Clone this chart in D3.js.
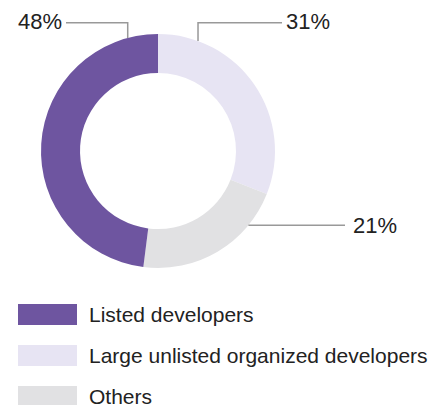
<!DOCTYPE html>
<html>
<head>
<meta charset="utf-8">
<script src="https://cdn.jsdelivr.net/npm/d3@7"></script>
<style>
  html, body { margin: 0; padding: 0; background: #fff; }
  svg { display: block; }
  text { font-family: "Liberation Sans", Arial, sans-serif; fill: #222; }
</style>
</head>
<body>
<svg id="chart" width="436" height="405"></svg>
<script>
// Market share by developer type
const categories = ["Listed developers", "Large unlisted organized developers", "Others"];
const shares = [48, 31, 21];
const colors = ["#6e55a0", "#e7e4f3", "#e1e1e3"];
// Clockwise drawing order starting at 12 o'clock
const drawOrder = [1, 2, 0];

const svg = d3.select("#chart");
const cx = 158, cy = 151, outerR = 117, innerR = 78;

const pie = d3.pie()
  .sort(null)
  .value(i => shares[i]);
const arcs = pie(drawOrder);

const arc = d3.arc().innerRadius(innerR).outerRadius(outerR);

const g = svg.append("g").attr("transform", `translate(${cx},${cy})`);
g.selectAll("path")
  .data(arcs)
  .join("path")
  .attr("d", arc)
  .attr("fill", d => colors[d.data]);

// Leader lines: anchor angle on the outer rim (degrees from 12 o'clock), elbow and label placement
const leaders = [
  { idx: 0, angle: -15, elbowY: 22.7, endX: 66,  labelX: 62,  anchor: "end",   baseY: 29 },
  { idx: 1, angle: 20,  elbowY: 22.7, endX: 282, labelX: 286, anchor: "start", baseY: 29 },
  { idx: 2, angle: 129.4, elbowY: null, endX: 345, labelX: 353, anchor: "start", baseY: 233 }
];

const rimPoint = a => {
  const r = a * Math.PI / 180;
  return [cx + outerR * Math.sin(r), cy - outerR * Math.cos(r)];
};

leaders.forEach(l => {
  const [px, py] = rimPoint(l.angle);
  const pts = l.elbowY === null
    ? [[px, py], [l.endX, py]]
    : [[px, py], [px, l.elbowY], [l.endX, l.elbowY]];
  svg.append("path")
    .attr("d", d3.line()(pts))
    .attr("fill", "none")
    .attr("stroke", "#999")
    .attr("stroke-width", 1.5);
  svg.append("text")
    .attr("x", l.labelX)
    .attr("y", l.baseY)
    .attr("text-anchor", l.anchor)
    .attr("font-size", 22)
    .text(shares[l.idx] + "%");
});

// Legend
const legend = svg.append("g");
const rowY = d3.scaleLinear().domain([0, 1]).range([304, 345]);
categories.forEach((c, i) => {
  legend.append("rect")
    .attr("x", 18).attr("y", rowY(i))
    .attr("width", 59).attr("height", 21)
    .attr("fill", colors[i]);
  legend.append("text")
    .attr("x", 89).attr("y", rowY(i) + 17.5)
    .attr("font-size", 21)
    .text(c);
});
</script>
</body>
</html>
